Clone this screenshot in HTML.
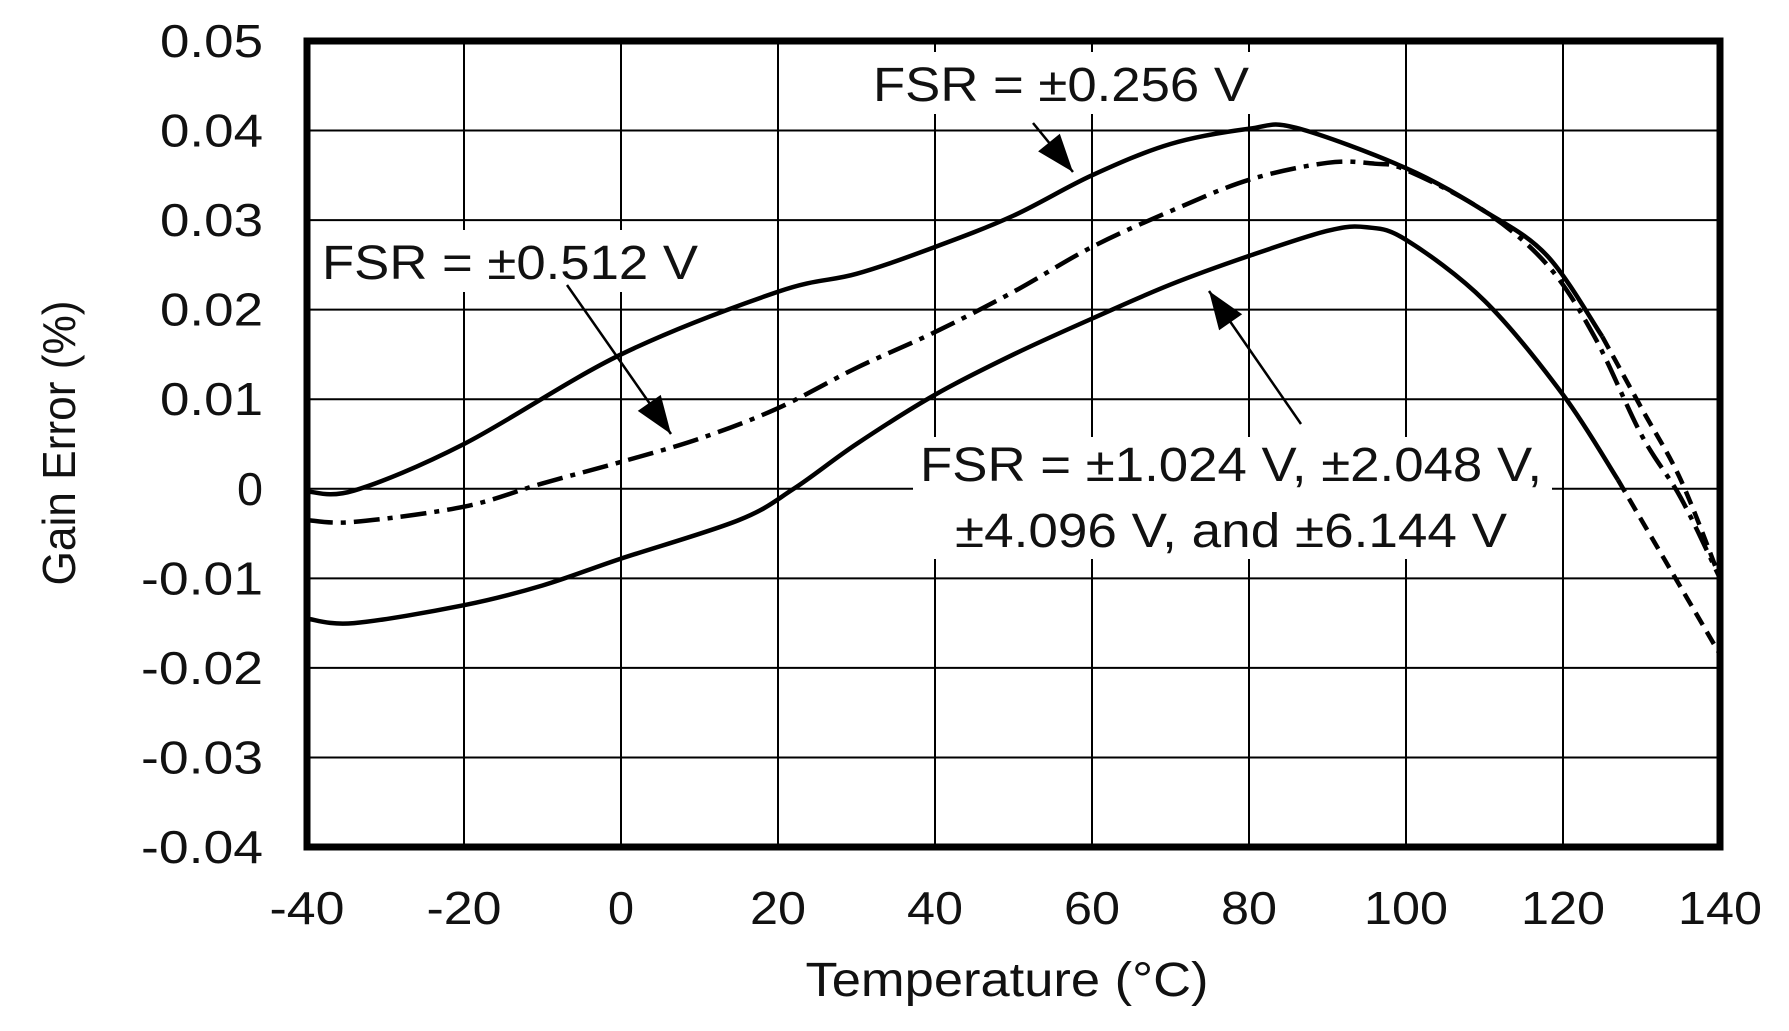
<!DOCTYPE html>
<html><head><meta charset="utf-8"><style>
html,body{margin:0;padding:0;background:#fff}
svg text{font-family:"Liberation Sans",Arial,sans-serif;fill:#111}
</style></head><body>
<svg id="s" width="1789" height="1026" viewBox="0 0 1789 1026" xmlns="http://www.w3.org/2000/svg">
<g id="grid" stroke="#000" stroke-width="2"></g>
<g id="curves" fill="none" stroke="#000" stroke-width="4.5" stroke-linejoin="round"></g>
<rect x="307" y="41" width="1413" height="806" fill="none" stroke="#000" stroke-width="7"/>
<g id="ticks" font-size="46"></g>
<text x="1007" y="996" font-size="48" text-anchor="middle" textLength="403" lengthAdjust="spacingAndGlyphs">Temperature (°C)</text>
<text transform="translate(75,443) rotate(-90)" font-size="46" text-anchor="middle" textLength="285" lengthAdjust="spacingAndGlyphs">Gain Error (%)</text>
<g id="ann"></g>
</svg>
<script>
(function(){
const L=307,R=1720,T=41,B=847;
const X=t=>L+(t+40)/180*(R-L), Y=v=>T+(0.05-v)/0.09*(B-T);
const NS="http://www.w3.org/2000/svg";
function el(p,tag,a,txt){const e=document.createElementNS(NS,tag);for(const k in a)e.setAttribute(k,a[k]);if(txt!=null)e.textContent=txt;document.getElementById(p).appendChild(e);return e;}
for(let t=-20;t<140;t+=20)el("grid","line",{x1:X(t),x2:X(t),y1:T,y2:B});
for(let i=1;i<9;i++){const v=0.05-i*0.01;el("grid","line",{x1:L,x2:R,y1:Y(v),y2:Y(v)});}
const yl=["0.05","0.04","0.03","0.02","0.01","0","-0.01","-0.02","-0.03","-0.04"];
yl.forEach((s,i)=>{const w=s=="0"?26:(s[0]=="-"?122:103);el("ticks","text",{x:263,y:Y(0.05-i*0.01)+16,"text-anchor":"end",textLength:w,lengthAdjust:"spacingAndGlyphs"},s);});
for(let t=-40;t<=140;t+=20){const s=String(t);const w=s.length*25+(s[0]=="-"?0:0);el("ticks","text",{x:X(t),y:924,"text-anchor":"middle",textLength:s=="0"?26:(s[0]=="-"?75:(s.length==3?84:56)),lengthAdjust:"spacingAndGlyphs"},s);}
function path(pts){const P=pts.map(p=>[X(p[0]),Y(p[1])]);let d="M"+P[0][0]+","+P[0][1];
for(let i=0;i<P.length-1;i++){const p0=P[Math.max(0,i-1)],p1=P[i],p2=P[i+1],p3=P[Math.min(P.length-1,i+2)];
const c1=[p1[0]+(p2[0]-p0[0])/6,p1[1]+(p2[1]-p0[1])/6],c2=[p2[0]-(p3[0]-p1[0])/6,p2[1]-(p3[1]-p1[1])/6];
d+=` C${c1[0]},${c1[1]} ${c2[0]},${c2[1]} ${p2[0]},${p2[1]}`;}return d;}
const c256=[[-40,-0.0003],[-34,-0.0002],[-20,0.005],[0,0.015],[20,0.022],[30,0.024],[40,0.027],[50,0.0305],[60,0.035],[70,0.0385],[80,0.0402],[86,0.0403],[100,0.0358],[110,0.031],[118,0.026],[125,0.017]];
const c256d=[[125,0.017],[130,0.009],[135,0.001],[140,-0.010]];
const dd=[[-40,-0.0035],[-34,-0.0037],[-20,-0.002],[-10,0.0006],[0,0.003],[10,0.0056],[20,0.009],[30,0.0135],[40,0.0175],[50,0.022],[60,0.027],[70,0.031],[80,0.0345],[90,0.0364],[96,0.0363],[100,0.0356],[110,0.031],[118,0.025],[124,0.017],[130,0.006],[135,-0.001],[140,-0.010]];
const bot=[[-40,-0.0145],[-34,-0.015],[-20,-0.013],[-10,-0.0108],[0,-0.0078],[15,-0.0035],[22,0.0],[30,0.005],[40,0.0105],[50,0.015],[60,0.019],[70,0.0228],[80,0.026],[90,0.0288],[95,0.0292],[100,0.0278],[110,0.021],[120,0.0105],[127,0.001]];
const botd=[[127,0.001],[133,-0.008],[140,-0.0185]];
el("curves","path",{d:path(c256)});
el("curves","path",{d:path(c256d),"stroke-dasharray":"14 8"});
el("curves","path",{d:path(dd),"stroke-dasharray":"26 8 5 8"});
el("curves","path",{d:path(bot)});
el("curves","path",{d:path(botd),"stroke-dasharray":"14 8"});
function arrow(x1,y1,x2,y2){el("ann","line",{x1,y1,x2,y2,stroke:"#000","stroke-width":2.5});
const a=Math.atan2(y2-y1,x2-x1),l=38,w=14;const bx=x2-l*Math.cos(a),by=y2-l*Math.sin(a);
el("ann","polygon",{points:`${x2},${y2} ${bx+w*Math.sin(a)},${by-w*Math.cos(a)} ${bx-w*Math.sin(a)},${by+w*Math.cos(a)}`,fill:"#000"});}
const ta={"font-size":48,lengthAdjust:"spacingAndGlyphs"};
el("ann","rect",{x:865,y:52,width:395,height:62,fill:"#fff"});
el("ann","text",Object.assign({x:873,y:101,textLength:376},ta),"FSR = ±0.256 V");
arrow(1033,123,1073,172);
el("ann","rect",{x:315,y:230,width:395,height:62,fill:"#fff"});
el("ann","text",Object.assign({x:322,y:279,textLength:376},ta),"FSR = ±0.512 V");
arrow(567,285,671,434);
el("ann","rect",{x:913,y:437,width:639,height:122,fill:"#fff"});
el("ann","text",Object.assign({x:1231,y:481,"text-anchor":"middle",textLength:622},ta),"FSR = ±1.024 V, ±2.048 V,");
el("ann","text",Object.assign({x:1231,y:547,"text-anchor":"middle",textLength:552},ta),"±4.096 V, and ±6.144 V");
arrow(1301,424,1209,291);
})();
</script>
</body></html>
